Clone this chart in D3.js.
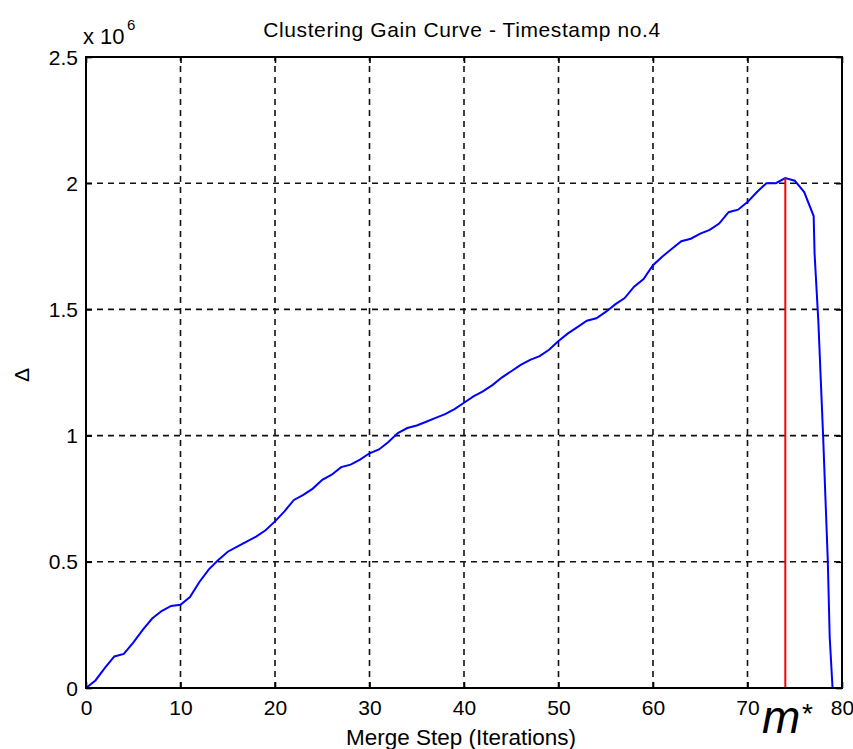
<!DOCTYPE html>
<html>
<head>
<meta charset="utf-8">
<script src="https://cdn.jsdelivr.net/npm/d3@7"></script>
<style>
  html, body { margin: 0; padding: 0; background: #fff; }
  svg { display: block; }
  text { font-family: "Liberation Sans", Arial, sans-serif; fill: #000; }
</style>
</head>
<body>
<svg id="chart" width="853" height="749"></svg>
<script>
// ---- data (values in units of 10^6) ----
const steps = [0,1,2,3,4,5,6,7,8,9,10,11,12,13,14,15,16,17,18,19,20,21,22,23,24,25,26,27,28,29,
  30,31,32,33,34,35,36,37,38,39,40,41,42,43,44,45,46,47,48,49,50,51,52,53,54,55,56,57,58,59,
  60,61,62,63,64,65,66,67,68,69,70,71,72,73,74,75,76,77,77.1,77.5,78,78.5,78.7,79];
const gains = [0,0.03,0.08,0.125,0.135,0.18,0.23,0.275,0.305,0.325,0.33,0.36,0.42,0.47,0.507,0.54,0.56,0.58,0.60,0.625,
  0.66,0.70,0.745,0.765,0.79,0.825,0.845,0.875,0.885,0.905,0.93,0.945,0.975,1.01,1.03,1.04,1.055,1.07,1.085,1.105,
  1.13,1.155,1.175,1.20,1.23,1.255,1.28,1.30,1.315,1.34,1.375,1.405,1.43,1.455,1.465,1.49,1.52,1.545,1.59,1.62,
  1.675,1.71,1.74,1.77,1.78,1.80,1.815,1.84,1.885,1.895,1.925,1.965,2.00,2.00,2.02,2.01,1.965,1.87,1.72,1.45,1.0,0.5,0.2,0];
const mStar = 74;
const xTicks = [0,10,20,30,40,50,60,70,80];
const yTicks = [0,0.5,1,1.5,2,2.5];
const yTickLabels = ["0","0.5","1","1.5","2","2.5"];
const titleText = "Clustering Gain Curve - Timestamp no.4";
const xLabelText = "Merge Step (Iterations)";
const yLabelText = "\u0394";

// ---- layout ----
const svg = d3.select("#chart");
const L = 86, R = 842, T = 57, B = 688;
const x = d3.scaleLinear().domain([0, 80]).range([L, R]);
const y = d3.scaleLinear().domain([0, 2.5]).range([B, T]);

svg.append("rect").attr("width", 853).attr("height", 749).attr("fill", "#fff");

// grid
const grid = svg.append("g").attr("stroke", "#111").attr("stroke-width", 1.6)
  .attr("stroke-dasharray", "6,5").attr("fill", "none");
grid.selectAll(".gx").data(xTicks.filter(d => d > 0 && d < 80)).enter().append("line")
  .attr("x1", d => x(d)).attr("x2", d => x(d)).attr("y1", B).attr("y2", T);
grid.selectAll(".gy").data(yTicks.filter(d => d > 0 && d < 2.5)).enter().append("line")
  .attr("x1", L).attr("x2", R).attr("y1", d => y(d)).attr("y2", d => y(d));

// curve
const line = d3.line().x((d, i) => x(steps[i])).y(d => y(d));
svg.append("path").datum(gains).attr("d", line)
  .attr("fill", "none").attr("stroke", "#0000ff").attr("stroke-width", 2);

// m* marker line
const maxGain = gains[steps.indexOf(mStar)];
svg.append("line").attr("x1", x(mStar)).attr("x2", x(mStar))
  .attr("y1", y(0)).attr("y2", y(maxGain))
  .attr("stroke", "#ff0000").attr("stroke-width", 2);

// axes
const fs = 21;
const xAxis = d3.axisBottom(x).tickValues(xTicks).tickSizeInner(-6).tickSizeOuter(0).tickPadding(12)
  .tickFormat(d3.format("d"));
const gx = svg.append("g").attr("transform", `translate(0,${B})`).call(xAxis);
const xAxisTop = d3.axisTop(x).tickValues(xTicks).tickSizeInner(-6).tickSizeOuter(0).tickFormat("");
svg.append("g").attr("transform", `translate(0,${T})`).call(xAxisTop);
const yAxis = d3.axisLeft(y).tickValues(yTicks).tickSizeInner(-6).tickSizeOuter(0).tickPadding(8)
  .tickFormat((d, i) => yTickLabels[i]);
const gy = svg.append("g").attr("transform", `translate(${L},0)`).call(yAxis);
const yAxisRight = d3.axisRight(y).tickValues(yTicks).tickSizeInner(-6).tickSizeOuter(0).tickFormat("");
svg.append("g").attr("transform", `translate(${R},0)`).call(yAxisRight);

svg.selectAll(".domain").remove();
svg.selectAll(".tick line").attr("stroke", "#000").attr("stroke-width", 1.6);
svg.selectAll(".tick text").attr("font-size", fs).attr("font-family", "Liberation Sans, Arial, sans-serif").attr("fill", "#000");
gy.selectAll(".tick text").attr("dy", "0.34em");

// frame
svg.append("rect").attr("x", L).attr("y", T).attr("width", R - L).attr("height", B - T)
  .attr("fill", "none").attr("stroke", "#000").attr("stroke-width", 2);

// title
svg.append("text").attr("x", 462).attr("y", 37).attr("text-anchor", "middle")
  .attr("font-size", 21).attr("letter-spacing", "0.6px").text(titleText);

// x label
svg.append("text").attr("x", 461).attr("y", 745).attr("text-anchor", "middle")
  .attr("font-size", 22.5).text(xLabelText);

// y label
svg.append("text").attr("transform", "translate(29,375) rotate(-90)").attr("text-anchor", "middle")
  .attr("font-size", 21).text(yLabelText);

// exponent
svg.append("text").attr("x", 83).attr("y", 44).attr("font-size", 22).text("x 10");
svg.append("text").attr("x", 127).attr("y", 30).attr("font-size", 15).text("6");

// m* label
svg.append("text").attr("x", 762).attr("y", 733)
  .attr("font-family", "Liberation Serif, DejaVu Serif, serif").attr("font-style", "italic")
  .attr("font-size", 46).text("m");
svg.append("text").attr("x", 802).attr("y", 723)
  .attr("font-family", "Liberation Serif, DejaVu Serif, serif")
  .attr("font-size", 28).text("*");
</script>
</body>
</html>
